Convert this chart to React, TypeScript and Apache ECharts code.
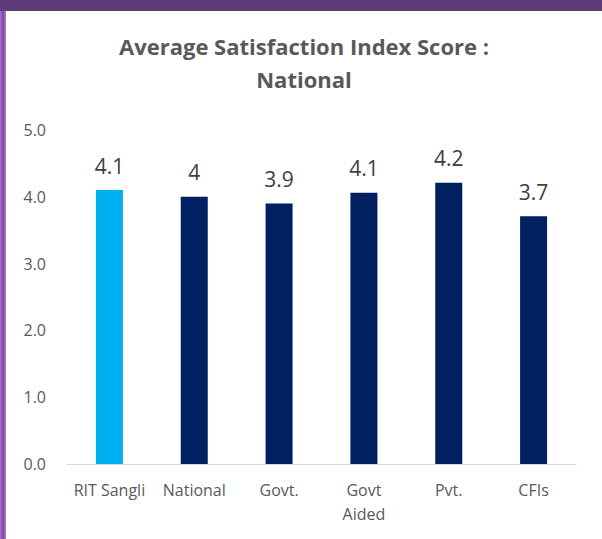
import React, { useEffect, useRef } from "react";
import * as echarts from "echarts";

const categories = ["RIT Sangli", "National", "Govt.", "Govt Aided", "Pvt.", "CFIs"];
const scores = [4.1, 4.0, 3.9, 4.06, 4.21, 3.71];
const scoreLabels = ["4.1", "4", "3.9", "4.1", "4.2", "3.7"];
const barColors = ["#00B0F0", "#002060", "#002060", "#002060", "#002060", "#002060"];
const yTicks = { min: 0, max: 5, interval: 1 };

export default function App() {
  const ref = useRef<HTMLDivElement>(null);
  useEffect(() => {
    document.body.style.margin = "0";
    const chart = echarts.init(ref.current!, null, { renderer: "svg" });
    const font = "'Open Sans', sans-serif";
    chart.setOption({
      animation: false,
      backgroundColor: "#ffffff",
      title: {
        text: "Average Satisfaction Index Score :\nNational",
        left: "center",
        top: 13,
        textStyle: {
          fontFamily: font,
          fontSize: 22,
          fontWeight: "bold",
          color: "#595959",
          lineHeight: 33,
        },
      },
      grid: { left: 61, right: 26, top: 119, bottom: 75 },
      xAxis: {
        type: "category",
        data: categories,
        axisLine: { lineStyle: { color: "#D9D9D9", width: 1 } },
        axisTick: { show: false },
        axisLabel: {
          interval: 0,
          margin: 14,
          fontFamily: font,
          fontSize: 16,
          color: "#595959",
          lineHeight: 24,
          formatter: (v: string) => (v === "Govt Aided" ? "Govt\nAided" : v),
        },
      },
      yAxis: {
        type: "value",
        min: yTicks.min,
        max: yTicks.max,
        interval: yTicks.interval,
        axisLine: { show: false },
        axisTick: { show: false },
        splitLine: { show: false },
        axisLabel: {
          margin: 21,
          fontFamily: font,
          fontSize: 16,
          color: "#595959",
          formatter: (v: number) => v.toFixed(1),
        },
      },
      series: [
        {
          type: "bar",
          barWidth: 27,
          data: scores.map((v, i) => ({ value: v, itemStyle: { color: barColors[i] } })),
          label: {
            show: true,
            position: "top",
            distance: 14,
            fontFamily: font,
            fontSize: 21,
            color: "#404040",
            formatter: (p: any) => scoreLabels[p.dataIndex],
          },
        },
      ],
    });
    return () => chart.dispose();
  }, []);
  return (
    <div
      style={{
        position: "absolute",
        left: 0,
        top: 0,
        width: 602,
        height: 539,
        background: "linear-gradient(90deg, #B06FD6 0px, #7E4A9E 3px, #B574DA 6px)",
      }}
    >
      <div
        style={{
          position: "absolute",
          left: 0,
          top: 0,
          width: 602,
          height: 11,
          background: "#5E3B78",
        }}
      />
      <div
        ref={ref}
        style={{ position: "absolute", left: 6, top: 11, width: 596, height: 528, background: "#fff" }}
      />
    </div>
  );
}
